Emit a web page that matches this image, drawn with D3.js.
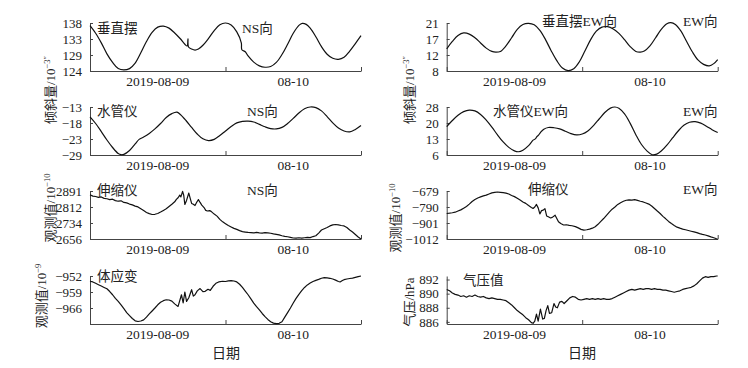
<!DOCTYPE html>
<html>
<head>
<meta charset="utf-8">
<script src="https://cdn.jsdelivr.net/npm/d3@7/dist/d3.min.js"></script>
<style>
  body { margin: 0; background: #fff; }
  svg { display: block; }
  text { font-family: "Liberation Serif", "Noto Sans CJK SC", serif; fill: #222; }
</style>
</head>
<body>
<div id="chart"></div>
<script>
// time axis: hours since 2019-08-09 00:00, two days shown
const dayTicks = [0, 24, 48];
const dayLabels = [[12, "2019-08-09"], [36, "08-10"]];

// 垂直摆 NS
const pendulumNSDomain = [124, 138];
const pendulumNSTicks = [124, 128.67, 133.33, 138];
const pendulumNSLabels = ["124", "129", "133", "138"];
const pendulumNS = [[0,137.2],[1,135.0],[2,132.2],[3,129.0],[4,126.5],[5,124.7],[6,124.3],[7,124.7],[8,126.3],[9,129.3],[10,132.6],[11,135.3],[12,136.8],[13,137.1],[14,136.5],[15,135.1],[16,133.4],[16.8,131.8],[17.2,131.3],[17.35,133.4],[17.45,131.0],[18,130.4],[18.6,130.1],[19.2,130.4],[20,131.5],[21,133.5],[22,135.8],[23,137.5],[24,138.0],[25,137.4],[26,135.4],[26.8,132.2],[26.9,130.2],[27.5,129.6],[28,128.4],[29,126.6],[30,125.5],[31,125.1],[32,125.3],[33,126.5],[34,128.8],[35,131.8],[36,135.0],[37,137.3],[37.6,137.9],[38.3,137.6],[39,136.5],[40,134.0],[41,131.1],[42,128.9],[43,127.7],[44,127.4],[45,128.0],[46,129.8],[47,132.0],[48,134.3]];

// 水管仪 NS
const tubeNSDomain = [-29, -13];
const tubeNSTicks = [-29, -23.67, -18.33, -13];
const tubeNSLabels = ["\u221229", "\u221223", "\u221218", "\u221213"];
const tubeNS = [[0,-16.3],[1,-18.5],[2,-21.2],[3,-24.0],[4,-26.5],[5,-28.5],[5.5,-28.9],[6,-28.8],[7,-27.5],[8,-25.3],[8.7,-23.8],[9.5,-23.0],[10.5,-21.8],[11.5,-20.3],[12.5,-18.5],[13.5,-16.5],[14.5,-15.2],[15.4,-14.7],[16,-15.5],[17,-17.5],[18,-19.8],[19,-22.0],[20,-23.6],[21,-24.2],[22,-23.8],[23,-22.5],[24,-21.0],[25,-19.5],[26,-18.3],[27,-17.8],[28,-17.7],[29,-18.0],[30,-18.8],[31,-19.6],[32,-20.2],[33,-20.3],[34,-19.8],[35,-18.5],[36,-16.8],[37,-15.0],[38,-13.6],[39,-13.0],[40,-13.2],[41,-14.3],[42,-16.2],[43,-18.3],[44,-20.0],[45,-21.0],[46,-21.3],[47,-20.5],[48,-19.2]];

// 伸缩仪 NS
const strainNSDomain = [2656, 2891];
const strainNSTicks = [2656, 2734.33, 2812.67, 2891];
const strainNSLabels = ["2656", "2734", "2812", "2891"];
const strainNS = [[0,2873],[0.5,2866],[1,2864],[1.5,2860],[2,2862],[2.5,2855],[3,2853],[3.5,2849],[4,2851],[4.5,2844],[5,2841],[5.5,2843],[6,2835],[6.5,2833],[7,2827],[7.5,2823],[8,2817],[8.5,2813],[9,2804],[9.5,2795],[10,2786],[10.5,2780],[11,2776],[11.5,2777],[12,2781],[12.5,2788],[13,2796],[13.5,2804],[14,2815],[14.5,2826],[15,2838],[15.3,2850],[15.6,2858],[15.9,2871],[16.1,2862],[16.4,2889],[16.6,2870],[16.8,2825],[17.1,2845],[17.5,2881],[17.8,2850],[18,2830],[18.3,2826],[18.6,2820],[18.9,2836],[19.2,2849],[19.5,2835],[19.8,2822],[20.2,2810],[20.5,2796],[20.8,2793],[21.2,2795],[21.5,2790],[22,2778],[22.5,2768],[23,2752],[23.5,2740],[24,2731],[24.5,2722],[25,2715],[25.5,2708],[26,2703],[26.5,2697],[27,2692],[27.5,2690],[28,2688],[28.5,2687],[29,2686],[29.5,2688],[30,2686],[30.5,2685],[31,2687],[31.5,2686],[32,2684],[32.5,2681],[33,2679],[33.5,2676],[34,2672],[34.5,2669],[35,2667],[35.5,2664],[36,2661],[36.5,2660],[37,2662],[37.5,2660],[38,2662],[38.5,2664],[39,2663],[39.5,2668],[40,2672],[40.5,2685],[41,2700],[41.5,2706],[42,2712],[42.5,2720],[43,2725],[43.5,2727],[44,2725],[44.5,2722],[45,2720],[45.5,2712],[46,2700],[46.5,2690],[47,2678],[47.5,2666],[48,2656]];

// 体应变
const volumeDomain = [-973, -952];
const volumeTicks = [-973, -966, -959, -952];
const volumeLabels = ["", "\u2212966", "\u2212959", "\u2212952"];
const volume = [[0,-954.3],[0.5,-954.6],[1,-955.2],[1.5,-955.8],[2,-956.4],[2.5,-957.0],[3,-957.6],[3.5,-958.8],[4,-960.2],[4.5,-961.8],[5,-963.1],[5.5,-964.6],[6,-966.3],[6.5,-968.0],[7,-969.3],[7.5,-970.6],[8,-971.6],[8.5,-971.9],[9,-971.7],[9.5,-971.2],[10,-970.0],[10.5,-968.6],[11,-967.3],[11.5,-966.0],[12,-964.6],[12.5,-963.5],[13,-962.8],[13.5,-962.4],[14,-962.5],[14.5,-963.0],[15,-964.2],[15.6,-965.3],[16.2,-960.2],[16.5,-963.8],[16.8,-959.0],[17.1,-963.1],[17.5,-961.5],[18,-958.0],[18.3,-960.8],[18.6,-960.2],[19,-958.5],[19.5,-957.5],[20,-958.8],[20.4,-958.7],[20.9,-957.8],[21.3,-958.3],[21.8,-956.5],[22.3,-955.2],[22.8,-954.6],[23.5,-954.3],[24,-954.4],[24.5,-954.1],[25,-954.0],[25.5,-954.2],[26,-954.6],[26.5,-955.6],[27,-957.0],[27.5,-958.6],[28,-960.2],[28.5,-962.0],[29,-963.9],[29.5,-965.4],[30,-966.8],[30.5,-968.4],[31,-969.8],[31.5,-971.0],[32,-972.0],[32.5,-972.6],[33,-972.8],[33.5,-972.7],[34,-972.0],[34.5,-970.0],[35,-968.0],[35.5,-966.0],[36,-963.8],[36.5,-961.8],[37,-960.0],[37.5,-958.4],[38,-957.0],[38.5,-955.9],[39,-955.1],[39.5,-954.4],[40,-953.9],[40.5,-953.5],[41,-953.0],[41.5,-952.7],[42,-952.8],[42.5,-953.0],[43,-953.3],[43.5,-953.8],[44,-954.4],[44.3,-954.6],[44.7,-954.0],[45,-953.6],[45.5,-953.3],[46,-953.1],[46.5,-952.9],[47,-952.6],[47.5,-952.3],[48,-952.0]];

// 垂直摆 EW
const pendulumEWDomain = [8, 21];
const pendulumEWTicks = [8, 12.33, 16.67, 21];
const pendulumEWLabels = ["8", "12", "17", "21"];
const pendulumEW = [[0,14.0],[1,16.0],[2,17.6],[3,18.3],[4,18.0],[5,17.0],[6,15.6],[7,14.2],[8,13.3],[8.7,13.1],[9.5,13.3],[10.5,14.8],[11.5,17.0],[12.5,19.3],[13.5,20.6],[14.5,20.9],[15.5,20.5],[16.5,19.0],[17.5,16.5],[18.5,13.5],[19.5,10.8],[20.5,8.8],[21.5,8.1],[22.5,8.6],[23.5,10.5],[24.5,13.5],[25.5,16.5],[26.5,18.8],[27.5,19.9],[28.5,20.0],[29.5,19.4],[30.5,18.2],[31.5,16.5],[32.5,14.6],[33.5,13.3],[34.3,13.1],[35,13.4],[36,14.8],[37,17.0],[38,19.3],[39,20.8],[39.7,21.1],[40.5,20.6],[41.5,18.8],[42.5,16.0],[43.5,13.2],[44.5,11.0],[45.5,9.8],[46.5,9.4],[47.3,10.0],[48,11.1]];

// 水管仪 EW
const tubeEWDomain = [6, 28];
const tubeEWTicks = [6, 13.33, 20.67, 28];
const tubeEWLabels = ["6", "13", "20", "28"];
const tubeEW = [[0,19.0],[1,21.8],[2,24.2],[3,25.9],[4,26.6],[5,26.2],[6,24.6],[7,22.0],[8,18.8],[9,15.2],[10,12.0],[11,9.5],[12,7.9],[12.7,7.5],[13.5,8.2],[14.5,10.3],[15.3,12.8],[15.7,13.4],[16,14.5],[16.3,15.2],[16.6,16.3],[17.2,17.8],[18,18.6],[19,18.5],[20,18.0],[21,16.9],[22,15.8],[23,15.2],[24,15.6],[25,17.0],[26,19.5],[27,22.5],[28,25.5],[29,27.5],[29.8,28.0],[30.5,27.4],[31.5,24.8],[32.5,20.5],[33.5,15.3],[34.5,10.8],[35.5,7.8],[36.4,6.1],[37.2,6.4],[38,7.8],[39,10.5],[40,13.8],[41,17.0],[42,19.6],[43,21.0],[44,21.3],[45,20.6],[46,19.2],[47,17.6],[48,16.3]];

// 伸缩仪 EW
const strainEWDomain = [-1012, -679];
const strainEWTicks = [-1012, -901, -790, -679];
const strainEWLabels = ["\u22121012", "\u2212901", "\u2212790", "\u2212679"];
const strainEW = [[0,-835],[0.5,-833],[1,-830],[1.5,-826],[2,-818],[2.5,-810],[3,-798],[3.5,-786],[4,-770],[4.5,-752],[5,-738],[5.5,-728],[6,-720],[6.5,-713],[7,-708],[7.5,-700],[8,-692],[8.5,-689],[9,-686],[9.5,-688],[10,-690],[10.5,-694],[11,-700],[11.5,-710],[12,-718],[12.5,-730],[13,-742],[13.5,-755],[14,-765],[14.5,-780],[15,-793],[15.3,-800],[15.6,-790],[15.9,-772],[16.2,-796],[16.5,-838],[16.8,-815],[17.1,-812],[17.4,-801],[17.7,-852],[18,-858],[18.4,-866],[18.7,-862],[19.2,-847],[19.5,-870],[19.8,-892],[20.2,-905],[20.7,-915],[21.2,-913],[21.7,-918],[22.2,-920],[22.8,-926],[23.3,-935],[23.8,-945],[24.3,-950],[24.8,-948],[25.3,-943],[25.8,-937],[26.3,-927],[26.8,-910],[27.3,-890],[27.8,-870],[28.3,-848],[28.8,-825],[29.3,-805],[29.8,-790],[30.3,-772],[30.8,-760],[31.3,-750],[31.8,-743],[32.3,-740],[32.8,-742],[33.3,-739],[33.8,-744],[34.3,-750],[34.8,-755],[35.3,-762],[35.8,-770],[36.3,-783],[36.8,-800],[37.3,-818],[37.8,-835],[38.3,-855],[38.8,-872],[39.3,-890],[39.8,-905],[40.3,-918],[40.8,-930],[41.3,-937],[41.8,-943],[42.3,-948],[42.8,-953],[43.3,-958],[43.8,-963],[44.3,-968],[44.8,-975],[45.3,-980],[45.8,-984],[46.3,-990],[46.8,-997],[47.3,-1003],[47.8,-1010],[48,-1012]];

// 气压值
const pressureDomain = [885.7, 892.5];
const pressureTicks = [886, 888, 890, 892];
const pressureLabels = ["886", "888", "890", "892"];
const pressure = [[0,890.6],[0.5,890.4],[1,890.1],[1.5,889.9],[2,889.8],[2.5,889.6],[3,889.7],[3.5,889.5],[4,889.7],[4.5,889.6],[5,889.8],[5.5,889.6],[6,889.5],[6.5,889.6],[7,889.4],[7.5,889.3],[8,889.4],[8.5,889.3],[9,889.2],[9.5,889.2],[10,889.1],[10.5,889.0],[11,888.7],[11.5,888.4],[12,888.0],[12.5,887.6],[13,887.3],[13.5,887.0],[14,886.6],[14.5,886.3],[15,885.9],[15.3,885.8],[15.6,886.1],[15.9,887.1],[16.2,886.1],[16.6,887.8],[17,886.4],[17.3,886.5],[17.6,887.6],[17.9,888.3],[18.2,887.2],[18.6,887.3],[19,888.6],[19.3,888.1],[19.6,888.0],[20,888.8],[20.4,888.9],[20.8,888.6],[21.3,889.0],[21.8,889.4],[22.3,889.6],[22.8,889.5],[23.3,889.2],[23.8,889.1],[24.3,889.2],[24.8,889.3],[25.3,889.2],[25.8,889.3],[26.3,889.2],[26.8,889.3],[27.3,889.2],[27.8,889.3],[28.3,889.2],[28.8,889.2],[29.3,889.3],[29.8,889.5],[30.3,889.7],[30.8,889.9],[31.3,890.1],[31.8,890.3],[32.3,890.5],[32.8,890.6],[33.3,890.5],[33.8,890.6],[34.3,890.7],[34.8,890.6],[35.3,890.7],[35.8,890.7],[36.3,890.6],[36.8,890.7],[37.3,890.6],[37.8,890.6],[38.3,890.5],[38.8,890.5],[39.3,890.4],[39.8,890.3],[40.3,890.2],[40.8,890.3],[41.3,890.4],[41.8,890.6],[42.3,890.7],[42.8,890.8],[43.3,890.9],[43.8,891.1],[44.3,891.4],[44.8,891.8],[45.3,892.2],[45.8,892.4],[46.3,892.3],[46.8,892.4],[47.3,892.4],[47.8,892.5],[48,892.5]];

document.addEventListener('DOMContentLoaded', () => {
    const W = 748, H = 368;
    const svg = d3.select("#chart").append("svg").attr("width", W).attr("height", H);

    const colX = [[90, 361], [446.7, 717.7]];
    const rowTop = [23, 107, 191, 276];
    const ph = 48;
    const smooth = d3.curveCatmullRom.alpha(0.5);
    const rough = d3.curveLinear;

    const panels = [
        { col: 0, row: 0, data: pendulumNS, domain: pendulumNSDomain, ticks: pendulumNSTicks, labels: pendulumNSLabels, curve: smooth,
          notes: [["垂直摆", 97, 33], ["NS向", 242, 33]] },
        { col: 0, row: 1, data: tubeNS, domain: tubeNSDomain, ticks: tubeNSTicks, labels: tubeNSLabels, curve: smooth,
          notes: [["水管仪", 97, 116], ["NS向", 247, 116]] },
        { col: 0, row: 2, data: strainNS, domain: strainNSDomain, ticks: strainNSTicks, labels: strainNSLabels, curve: rough,
          notes: [["伸缩仪", 97, 195], ["NS向", 247, 195]] },
        { col: 0, row: 3, data: volume, domain: volumeDomain, ticks: volumeTicks, labels: volumeLabels, curve: rough,
          notes: [["体应变", 97, 281]] },
        { col: 1, row: 0, data: pendulumEW, domain: pendulumEWDomain, ticks: pendulumEWTicks, labels: pendulumEWLabels, curve: smooth,
          notes: [["垂直摆EW向", 542, 26], ["EW向", 683, 26]] },
        { col: 1, row: 1, data: tubeEW, domain: tubeEWDomain, ticks: tubeEWTicks, labels: tubeEWLabels, curve: smooth,
          notes: [["水管仪EW向", 493, 116], ["EW向", 683, 116]] },
        { col: 1, row: 2, data: strainEW, domain: strainEWDomain, ticks: strainEWTicks, labels: strainEWLabels, curve: rough,
          notes: [["伸缩仪", 528, 194], ["EW向", 683, 194]] },
        { col: 1, row: 3, data: pressure, domain: pressureDomain, ticks: pressureTicks, labels: pressureLabels, curve: rough,
          notes: [["气压值", 463, 285]] }
    ];

    panels.forEach(p => {
        const [x0, x1] = colX[p.col];
        const top = rowTop[p.row], bottom = top + ph;
        const x = d3.scaleLinear().domain([0, 48]).range([x0, x1]);
        const y = d3.scaleLinear().domain(p.domain).range([bottom, top]);
        const g = svg.append("g");

        // y axis, ticks pointing inward
        const yAxis = d3.axisLeft(y).tickValues(p.ticks)
            .tickFormat((d, i) => p.labels[i]).tickSizeInner(-3).tickSizeOuter(0).tickPadding(8);
        g.append("g").attr("transform", `translate(${x0},0)`).call(yAxis)
            .call(a => a.select(".domain").attr("stroke", "#444"))
            .call(a => a.selectAll(".tick line").attr("stroke", "#444"))
            .call(a => a.selectAll("text").attr("font-size", 13).attr("fill", "#222")
                .style("font-family", '"Liberation Serif", serif'));

        // x axis, ticks pointing inward, labels centred on each day
        const xAxis = d3.axisBottom(x).tickValues(dayTicks).tickFormat("").tickSizeInner(-4).tickSizeOuter(0);
        g.append("g").attr("transform", `translate(0,${bottom})`).call(xAxis)
            .call(a => a.select(".domain").attr("stroke", "#444").attr("stroke-width", 1.2))
            .call(a => a.selectAll(".tick line").attr("stroke", "#444"));
        g.selectAll(".daylabel").data(dayLabels).enter().append("text")
            .attr("x", d => x(d[0])).attr("y", bottom + 15)
            .attr("text-anchor", "middle").attr("font-size", 13.5).text(d => d[1]);

        const line = d3.line().x(d => x(d[0])).y(d => y(d[1])).curve(p.curve);
        g.append("path").datum(p.data).attr("d", line)
            .attr("fill", "none").attr("stroke", "#111").attr("stroke-width", 1.2)
            .attr("stroke-linejoin", "round");

        p.notes.forEach(n => {
            g.append("text").attr("x", n[1]).attr("y", n[2]).attr("font-size", 13.5).text(n[0]);
        });
    });

    // axis titles
    const vTitle = (cx, cy, main, sup) => {
        const t = svg.append("text")
            .attr("transform", `translate(${cx},${cy}) rotate(-90)`)
            .attr("text-anchor", "middle").attr("font-size", 13).attr("fill", "#333");
        t.append("tspan").text(main);
        if (sup) t.append("tspan").attr("dy", -5).attr("font-size", 8.5).text(sup);
    };
    vTitle(55, 90, "倾斜量/10", "\u22123\u2033");
    vTitle(414, 90, "倾斜量/10", "\u22123\u2033");
    vTitle(55, 208, "观测值/10", "\u221210");
    vTitle(46, 296, "观测值/10", "\u22129");
    vTitle(400, 218, "观测值/10", "\u221210");
    vTitle(414, 302, "气压/hPa");

    svg.append("text").attr("x", 226).attr("y", 358).attr("text-anchor", "middle").attr("font-size", 14).text("日期");
    svg.append("text").attr("x", 582).attr("y", 358).attr("text-anchor", "middle").attr("font-size", 14).text("日期");
});
</script>
</body>
</html>
